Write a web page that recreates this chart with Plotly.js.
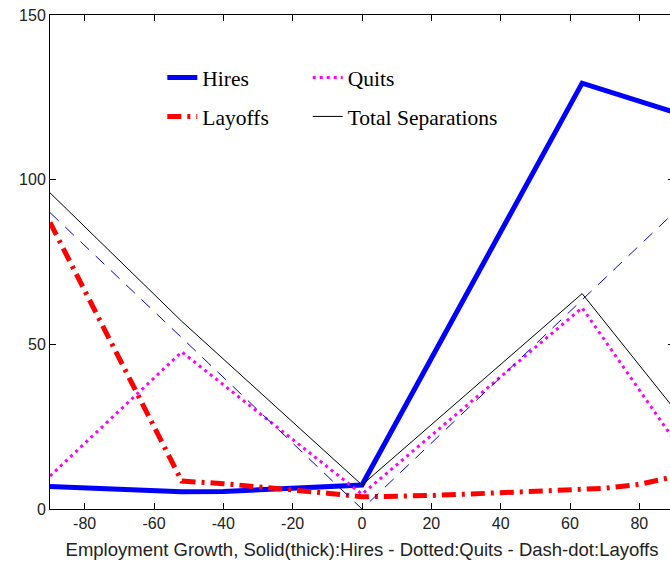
<!DOCTYPE html>
<html>
<head>
<meta charset="utf-8">
<script src="https://cdn.plot.ly/plotly-3.0.1.min.js"></script>
<style>
html, body { margin: 0; padding: 0; overflow: hidden; background: #fff; }
#chart { width: 676px; height: 566px; }
</style>
</head>
<body>
<div id="chart"></div>
<script>
// Data
const hiresX = [-90, -70, -52, -40, -20, 0, 63.5, 90];
const hiresY = [6.8, 6.0, 5.2, 5.3, 6.4, 7.3, 129.3, 120.5];

const quitsX = [-90, -52, 0, 63.5, 90];
const quitsY = [10, 47.7, 4.5, 61.1, 21];

const layoffsX = [-90, -52, -40, -30, -20, -10, 0, 10, 20, 30, 40, 50, 60, 70, 80, 90];
const layoffsY = [87, 8.5, 7.7, 6.8, 5.8, 4.8, 3.7, 3.8, 4.1, 4.5, 4.9, 5.2, 5.6, 6.3, 7.5, 9.8];

const totalX = [-90, -52, 0, 63.5, 90];
const totalY = [96, 57, 7.3, 65.4, 30.5];

const diagX = [-90, 0, 90];
const diagY = [90, 0, 90];

const xTicks = [-80, -60, -40, -20, 0, 20, 40, 60, 80];
const yTicks = [0, 50, 100, 150];

const traces = [
  { x: hiresX, y: hiresY, name: 'Hires', mode: 'lines', legend: 'legend', legendgroup: 'h',
    line: { color: '#0000ff', width: 5 } },
  { x: quitsX, y: quitsY, name: 'Quits', mode: 'lines', legend: 'legend2', legendgroup: 'q',
    line: { color: '#ff00ff', width: 3, dash: '3px,4px' } },
  { x: layoffsX, y: layoffsY, name: 'Layoffs', mode: 'lines', legend: 'legend', legendgroup: 'l',
    line: { color: '#ff0000', width: 5, dash: '14px,6px,3px,6px' } },
  { x: totalX, y: totalY, name: 'Total Separations', mode: 'lines', legend: 'legend2', legendgroup: 't',
    line: { color: '#000000', width: 1 } },
  { x: diagX, y: diagY, name: '45 degree', mode: 'lines', showlegend: false,
    line: { color: '#0000ff', width: 1, dash: '12px,9px' } }
];

const legendFont = { family: '"Liberation Serif", "Times New Roman", serif', size: 21.5, color: '#000' };

const layout = {
  width: 676, height: 566,
  margin: { l: 50, r: 2, t: 15, b: 57 },
  paper_bgcolor: '#ffffff', plot_bgcolor: '#ffffff',
  font: { family: '"Liberation Sans", Arial, sans-serif', size: 16, color: '#222' },
  showlegend: true,
  xaxis: {
    range: [-90, 90], tickvals: xTicks, ticktext: xTicks.map(String),
    showline: true, linecolor: '#000', linewidth: 1, mirror: 'ticks',
    ticks: 'inside', ticklen: 6, tickcolor: '#000', showgrid: false, zeroline: false,
    title: { text: 'Employment Growth, Solid(thick):Hires - Dotted:Quits - Dash-dot:Layoffs',
             font: { size: 18.5, color: '#222' }, standoff: 11 }
  },
  yaxis: {
    range: [0, 150], tickvals: yTicks, ticktext: yTicks.map(String),
    showline: true, linecolor: '#000', linewidth: 1, mirror: 'ticks',
    ticks: 'inside', ticklen: 6, tickcolor: '#000', showgrid: false, zeroline: false
  },
  legend: {
    x: 0.18, y: 0.915, xanchor: 'left', yanchor: 'top',
    bgcolor: 'rgba(0,0,0,0)', borderwidth: 0, font: legendFont,
    tracegroupgap: 8, orientation: 'v'
  },
  legend2: {
    x: 0.413, y: 0.915, xanchor: 'left', yanchor: 'top',
    bgcolor: 'rgba(0,0,0,0)', borderwidth: 0, font: legendFont,
    tracegroupgap: 8, orientation: 'v'
  }
};

Plotly.newPlot('chart', traces, layout, { displayModeBar: false, staticPlot: true });
</script>
</body>
</html>
